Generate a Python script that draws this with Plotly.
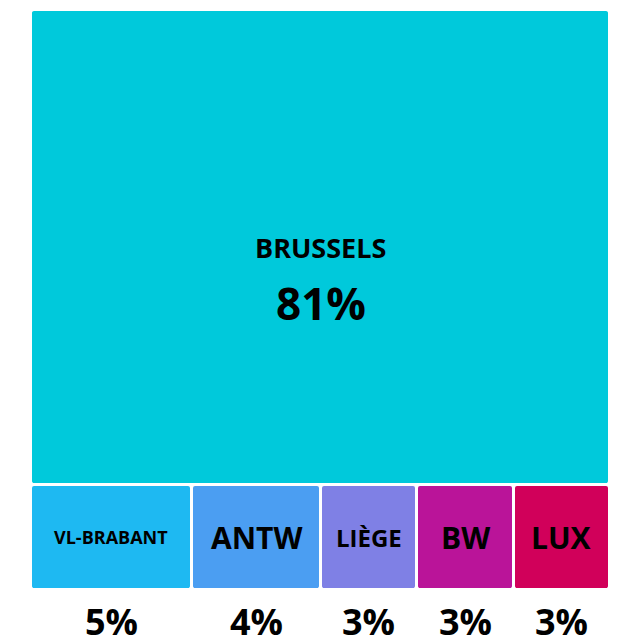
import plotly.graph_objects as go

# Data
main_label = "BRUSSELS"
main_value = 81
labels = ["VL-BRABANT", "ANTW", "LIÈGE", "BW", "LUX"]
values = [5, 4, 3, 3, 3]
pct_text = ["5%", "4%", "3%", "3%", "3%"]
main_pct_text = "81%"

# Styles
main_color = "#00C9DB"
colors = ["#1EB9F2", "#4B9EF2", "#7F80E5", "#BA1499", "#D1005A"]
label_sizes = [18, 30, 24, 30, 30]
FONT = "Open Sans"
W = 700

total = main_value + sum(values)
rest = sum(values)

# slice-dice layout computed from the data
widths = [v / rest * total for v in values]
centers = []
acc = 0
for w in widths:
    centers.append(acc + w / 2)
    acc += w

fig = go.Figure()
fig.add_trace(go.Bar(
    x=[total / 2], y=[main_value], base=[rest], width=[total],
    marker=dict(color=main_color, line=dict(color="white", width=3)),
    hoverinfo="skip", showlegend=False,
))
fig.add_trace(go.Bar(
    x=centers, y=[rest] * len(values), base=[0] * len(values), width=widths,
    marker=dict(color=colors, line=dict(color="white", width=3)),
    hoverinfo="skip", showlegend=False,
))

ann = []
ann.append(dict(x=total / 2, y=rest + main_value / 2, text=main_label, showarrow=False,
                xanchor="center", yanchor="middle",
                font=dict(family=FONT, size=27, color="black", weight=W)))
ann.append(dict(x=total / 2, y=rest + main_value / 2, text=main_pct_text, showarrow=False,
                xanchor="center", yanchor="middle", yshift=-56,
                font=dict(family=FONT, size=44, color="black", weight=W)))
for c, lab, sz, p in zip(centers, labels, label_sizes, pct_text):
    ann.append(dict(x=c, y=rest / 2, text=lab, showarrow=False,
                    xanchor="center", yanchor="middle",
                    font=dict(family=FONT, size=sz, color="black", weight=W)))
    ann.append(dict(x=c, y=0, text=p, showarrow=False,
                    xanchor="center", yanchor="middle", yshift=-31,
                    font=dict(family=FONT, size=36, color="black", weight=W)))

fig.update_layout(
    width=619, height=634,
    margin=dict(l=23, r=17, t=2, b=52),
    paper_bgcolor="white", plot_bgcolor="white",
    barcornerradius=4,
    annotations=ann,
    xaxis=dict(range=[0, total], visible=False, fixedrange=True),
    yaxis=dict(range=[0, total], visible=False, fixedrange=True),
    bargap=0,
)
fig.write_html("out.html", config={"displayModeBar": False})
